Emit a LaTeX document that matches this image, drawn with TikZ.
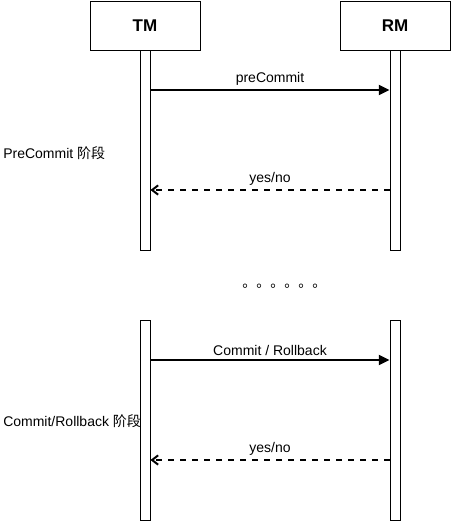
\documentclass[tikz,border=0pt]{standalone}
\usepackage{fontspec}
\setmainfont{Liberation Sans}
\newfontfamily\cjk{Noto Sans CJK SC}
\usetikzlibrary{arrows.meta,positioning}

\tikzset{
    actor/.style={draw, line width=0.75pt, minimum width=82.5pt, minimum height=36.75pt,
        inner sep=0pt, font=\fontsize{12.75pt}{15pt}\selectfont\bfseries},
    lifebar/.style={draw, line width=0.75pt, minimum width=7.5pt, minimum height=150pt, inner sep=0pt},
    call/.style={line width=1.5pt, -{Triangle[length=8pt,width=7.5pt]}},
    reply/.style={line width=1.5pt, dash pattern=on 4.5pt off 4.5pt,
        -{Straight Barb[length=4.5pt,width=7pt,line width=1.5pt]}},
    msglabel/.style={font=\fontsize{10.5pt}{12pt}\selectfont, inner sep=0pt, above=2.6pt},
    phase/.style={font=\fontsize{10.5pt}{12pt}\selectfont, inner sep=0pt, anchor=west},
}

\begin{document}
\begin{tikzpicture}[x=0.75pt, y=-0.75pt]
            \useasboundingbox (0,0) rectangle (451,521);
            % Actors
            \node[actor] (tm) at (145,25.5) {TM};
            \node[actor] (rm) at (395,25.5) {RM};
            % Lifelines
            \foreach \i/\yc in {1/150, 2/420} {
                \node[lifebar] (tmbar\i) at (145,\yc) {};
                \node[lifebar] (rmbar\i) at (395,\yc) {};
            }
            % PreCommit
            \draw[call] (tmbar1.east |- 0,90) -- node[msglabel] {preCommit} (rmbar1.west |- 0,90);
            \draw[reply] (rmbar1.west |- 0,190) -- node[msglabel] {yes/no} (tmbar1.east |- 0,190);
            \node[phase] (prephase) at (3,153) {PreCommit {\cjk 阶段}};
            % Gap
            \node[font=\cjk\fontsize{10.5pt}{12pt}\selectfont, anchor=base west, inner sep=0pt] (gap) at (242,287) {。。。。。。};
            % Commit / Rollback
            \draw[call] (tmbar2.east |- 0,360) -- node[msglabel] {Commit / Rollback} (rmbar2.west |- 0,360);
            \draw[reply] (rmbar2.west |- 0,460) -- node[msglabel] {yes/no} (tmbar2.east |- 0,460);
            \node[phase] (commitphase) at (3,421) {Commit/Rollback {\cjk 阶段}};
        \end{tikzpicture}
\end{document}
